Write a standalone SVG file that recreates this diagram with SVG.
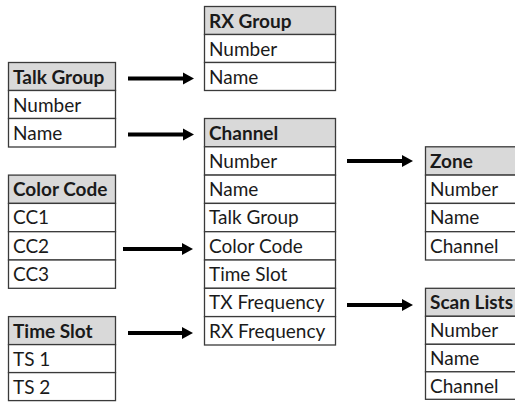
<svg xmlns="http://www.w3.org/2000/svg" width="515" height="402" viewBox="0 0 515 402">
<style>
  .cell { fill: #ffffff; stroke: #3a3a3a; stroke-width: 1.3; }
  .head { fill: #d9d9d9; stroke: #3a3a3a; stroke-width: 1.3; }
  text { font-family: Lato, "Open Sans", sans-serif; font-size: 19px; fill: #1a1a1a; }
  .h { font-weight: bold; }
  .arrow { stroke: #000000; stroke-width: 3.8; fill: none; marker-end: url(#ah); }
</style>
<defs>
  <marker id="ah" markerUnits="userSpaceOnUse" markerWidth="12" markerHeight="14" refX="1" refY="7" orient="auto" viewBox="0 0 12 14">
    <path d="M0,1 L11,7 L0,13 Z" fill="#000000"/>
  </marker>
</defs>
<rect width="515" height="402" fill="#ffffff"/>

<g id="rx-group">
  <rect class="head" x="204.5" y="6.5" width="131" height="28"/>
  <rect class="cell" x="204.5" y="34.5" width="131" height="28"/>
  <rect class="cell" x="204.5" y="62.5" width="131" height="28"/>
  <text class="h" x="209" y="27.5">RX Group</text>
  <text x="209" y="55.5">Number</text>
  <text x="209" y="83.5">Name</text>
</g>

<g id="talk-group">
  <rect class="head" x="8.5" y="62.5" width="107" height="28"/>
  <rect class="cell" x="8.5" y="90.5" width="107" height="28"/>
  <rect class="cell" x="8.5" y="118.5" width="107" height="28.5"/>
  <text class="h" x="13" y="83.5">Talk Group</text>
  <text x="13" y="111.5">Number</text>
  <text x="13" y="140">Name</text>
</g>

<g id="channel">
  <rect class="head" x="204.5" y="118.5" width="131" height="28.3"/>
  <rect class="cell" x="204.5" y="146.8" width="131" height="28.3"/>
  <rect class="cell" x="204.5" y="175.1" width="131" height="28.3"/>
  <rect class="cell" x="204.5" y="203.4" width="131" height="28.3"/>
  <rect class="cell" x="204.5" y="231.7" width="131" height="28.3"/>
  <rect class="cell" x="204.5" y="260" width="131" height="28.3"/>
  <rect class="cell" x="204.5" y="288.3" width="131" height="28.3"/>
  <rect class="cell" x="204.5" y="316.6" width="131" height="28.4"/>
  <text class="h" x="209" y="139.5">Channel</text>
  <text x="209" y="167.8">Number</text>
  <text x="209" y="196.1">Name</text>
  <text x="209" y="224.4">Talk Group</text>
  <text x="209" y="252.7">Color Code</text>
  <text x="209" y="281">Time Slot</text>
  <text x="209" y="309.3">TX Frequency</text>
  <text x="209" y="337.6">RX Frequency</text>
</g>

<g id="color-code">
  <rect class="head" x="8.5" y="175.1" width="107" height="28.3"/>
  <rect class="cell" x="8.5" y="203.4" width="107" height="28.3"/>
  <rect class="cell" x="8.5" y="231.7" width="107" height="28.3"/>
  <rect class="cell" x="8.5" y="260" width="107" height="28.3"/>
  <text class="h" x="13" y="196.1">Color Code</text>
  <text x="13" y="224.4">CC1</text>
  <text x="13" y="252.7">CC2</text>
  <text x="13" y="281">CC3</text>
</g>

<g id="time-slot">
  <rect class="head" x="8.5" y="316.6" width="107" height="28"/>
  <rect class="cell" x="8.5" y="344.6" width="107" height="28"/>
  <rect class="cell" x="8.5" y="372.6" width="107" height="28"/>
  <text class="h" x="13" y="337.5">Time Slot</text>
  <text x="13" y="365.5">TS 1</text>
  <text x="13" y="393.5">TS 2</text>
</g>

<g id="zone">
  <rect class="head" x="425.5" y="146.8" width="100" height="28.3"/>
  <rect class="cell" x="425.5" y="175.1" width="100" height="28.3"/>
  <rect class="cell" x="425.5" y="203.4" width="100" height="28.3"/>
  <rect class="cell" x="425.5" y="231.7" width="100" height="28.3"/>
  <text class="h" x="430" y="167.8">Zone</text>
  <text x="430" y="196.1">Number</text>
  <text x="430" y="224.4">Name</text>
  <text x="430" y="252.7">Channel</text>
</g>

<g id="scan-lists">
  <rect class="head" x="425.5" y="288.3" width="100" height="28"/>
  <rect class="cell" x="425.5" y="316.3" width="100" height="28"/>
  <rect class="cell" x="425.5" y="344.3" width="100" height="27.5"/>
  <rect class="cell" x="425.5" y="371.8" width="100" height="27.5"/>
  <text class="h" x="430" y="309.3">Scan Lists</text>
  <text x="430" y="337.3">Number</text>
  <text x="430" y="365">Name</text>
  <text x="430" y="392.5">Channel</text>
</g>

<g id="connectors">
  <line class="arrow" x1="128" y1="78.5" x2="184" y2="78.5"/>
  <line class="arrow" x1="128" y1="134.5" x2="184" y2="134.5"/>
  <line class="arrow" x1="123" y1="249" x2="183" y2="249"/>
  <line class="arrow" x1="128" y1="333" x2="183" y2="333"/>
  <line class="arrow" x1="347" y1="161" x2="403" y2="161"/>
  <line class="arrow" x1="347" y1="305" x2="403" y2="305"/>
</g>
</svg>
